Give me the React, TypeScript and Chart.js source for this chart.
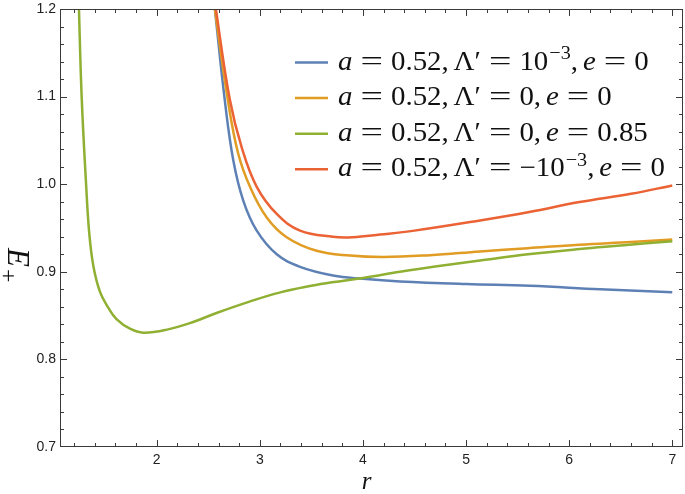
import React, { useEffect, useRef } from "react";
import { Chart, registerables } from "chart.js";

Chart.register(...registerables);

// ---- axis ranges & ticks ----
const X_MIN = 1.062;
const X_MAX = 7.104;
const Y_MIN = 0.7;
const Y_MAX = 1.2;
const X_TICKS = [2, 3, 4, 5, 6, 7];
const Y_TICKS = [0.7, 0.8, 0.9, 1.0, 1.1, 1.2];
const X_MINOR_STEP = 0.2;
const Y_MINOR_STEP = 0.02;

// ---- series ----
const LABELS = [
  "a = 0.52, Λ′ = 10^{−3}, e = 0",
  "a = 0.52, Λ′ = 0, e = 0",
  "a = 0.52, Λ′ = 0, e = 0.85",
  "a = 0.52, Λ′ = −10^{−3}, e = 0",
];
const COLORS = ["#5E81B5", "#E19C24", "#8FB032", "#EB6235"];

const BLUE_X = [2.55, 2.565, 2.66, 2.743, 2.84, 2.97, 3.164, 3.39, 3.71, 4.0, 4.36, 5.0, 5.62, 6.3, 7.0];
const BLUE_Y = [1.215, 1.199, 1.096, 1.027, 0.981, 0.947, 0.920, 0.9056, 0.8957, 0.892, 0.889, 0.886, 0.884, 0.880, 0.8766];

const ORANGE_X = [2.55, 2.565, 2.69, 2.79, 2.905, 3.067, 3.26, 3.55, 3.875, 4.2, 4.65, 5.135, 5.6, 6.1, 6.6, 7.0];
const ORANGE_Y = [1.215, 1.199, 1.096, 1.035, 0.997, 0.962, 0.9395, 0.924, 0.9185, 0.9168, 0.919, 0.9233, 0.927, 0.931, 0.934, 0.9368];

const GREEN_X = [1.236, 1.246, 1.272, 1.315, 1.345, 1.385, 1.45, 1.53, 1.61, 1.74, 1.87, 2.1, 2.36, 2.58, 2.9, 3.2, 3.5, 3.7, 4.0, 4.36, 4.7, 5.135, 5.6, 6.1, 6.5, 7.0];
const GREEN_Y = [1.25, 1.2, 1.1, 1.0, 0.945, 0.907, 0.877, 0.859, 0.846, 0.835, 0.8305, 0.834, 0.843, 0.853, 0.866, 0.8765, 0.884, 0.888, 0.893, 0.900, 0.906, 0.9128, 0.92, 0.926, 0.930, 0.935];

const RED_X = [2.56, 2.575, 2.71, 2.824, 2.97, 3.164, 3.39, 3.71, 3.9, 4.166, 4.5, 5.135, 5.6, 6.1, 6.6, 7.0];
const RED_Y = [1.215, 1.199, 1.096, 1.042, 0.997, 0.966, 0.947, 0.940, 0.9395, 0.9425, 0.947, 0.9586, 0.968, 0.9796, 0.989, 0.9986];

const SERIES_X = [BLUE_X, ORANGE_X, GREEN_X, RED_X];
const SERIES_Y = [BLUE_Y, ORANGE_Y, GREEN_Y, RED_Y];

const SERIF = '"Liberation Serif", "DejaVu Serif", serif';
const SANS = '"Liberation Sans", Arial, sans-serif';
const FRAME_COLOR = "#3a3a3a";

type Seg = { t: string; italic?: boolean; sup?: boolean };

function parseLabel(label: string): Seg[] {
  const segs: Seg[] = [];
  let i = 0;
  while (i < label.length) {
    if (label.startsWith("^{", i)) {
      const j = label.indexOf("}", i);
      segs.push({ t: label.slice(i + 2, j), sup: true });
      i = j + 1;
      continue;
    }
    const c = label[i];
    const it = /[a-z]/.test(c);
    segs.push({ t: c, italic: it });
    i++;
  }
  return segs;
}

// TeX-like layout of a math label
function drawMath(ctx: CanvasRenderingContext2D, label: string, x: number, y: number, size: number, sx: number) {
  const segs = parseLabel(label);
  ctx.save();
  ctx.translate(x, y);
  ctx.scale(sx, 1);
  let cx = 0;
  const thick = size * 0.278;
  const thin = size * 0.167;
  for (const s of segs) {
    if (s.sup) {
      ctx.font = `${size * 0.7}px ${SERIF}`;
      ctx.fillText(s.t, cx + 1, -size * 0.4);
      cx += ctx.measureText(s.t).width + 1;
      continue;
    }
    if (s.t === " ") continue;
    if (s.t === "=") {
      ctx.font = `${size}px ${SERIF}`;
      const w = ctx.measureText("=").width;
      const target = size * 0.778;
      cx += thick;
      ctx.save();
      ctx.translate(cx, 0);
      ctx.scale(target / w, 1);
      ctx.fillText("=", 0, 0);
      ctx.restore();
      cx += target + thick;
      continue;
    }
    ctx.font = `${s.italic ? "italic " : ""}${size}px ${SERIF}`;
    ctx.fillText(s.t, cx, 0);
    cx += ctx.measureText(s.t).width;
    if (s.t === ",") cx += thin;
  }
  ctx.restore();
}

const framePlugin = {
  id: "frameTicks",
  afterDraw(chart: any) {
    const ctx: CanvasRenderingContext2D = chart.ctx;
    const { left, right, top, bottom } = chart.chartArea;
    const xs = chart.scales.x;
    const ys = chart.scales.y;
    ctx.save();
    ctx.strokeStyle = FRAME_COLOR;
    ctx.lineWidth = 1;
    ctx.strokeRect(left + 0.5, top + 0.5, right - left - 1, bottom - top - 1);
    ctx.beginPath();
    const nx = Math.ceil(X_MAX / X_MINOR_STEP);
    for (let k = 0; k <= nx; k++) {
      const v = Math.round(k * X_MINOR_STEP * 1000) / 1000;
      if (v <= X_MIN || v >= X_MAX) continue;
      const major = X_TICKS.some((t) => Math.abs(t - v) < 1e-6);
      const len = major ? 7 : 4;
      const px = Math.round(xs.getPixelForValue(v)) + 0.5;
      ctx.moveTo(px, bottom);
      ctx.lineTo(px, bottom - len);
      ctx.moveTo(px, top);
      ctx.lineTo(px, top + len);
    }
    const ny = Math.round((Y_MAX - Y_MIN) / Y_MINOR_STEP);
    for (let k = 1; k < ny; k++) {
      const v = Y_MIN + k * Y_MINOR_STEP;
      const major = Y_TICKS.some((t) => Math.abs(t - v) < 1e-6);
      const len = major ? 7 : 4;
      const py = Math.round(ys.getPixelForValue(v)) + 0.5;
      ctx.moveTo(left, py);
      ctx.lineTo(left + len, py);
      ctx.moveTo(right, py);
      ctx.lineTo(right - len, py);
    }
    ctx.stroke();

    // legend
    ctx.fillStyle = "#111";
    ctx.textBaseline = "alphabetic";
    chart.data.datasets.forEach((ds: any, i: number) => {
      const ly = 62.5 + i * 35.6;
      ctx.strokeStyle = ds.borderColor;
      ctx.lineWidth = 2.5;
      ctx.beginPath();
      ctx.moveTo(295, ly);
      ctx.lineTo(328, ly);
      ctx.stroke();
      drawMath(ctx, ds.label, 338, ly + 7, 27, 1.07);
    });

    // axis titles
    ctx.fillStyle = "#111";
    ctx.font = `italic 25px ${SERIF}`;
    ctx.textAlign = "center";
    ctx.fillText("r", (left + right) / 2 - 5, 489);
    ctx.textAlign = "left";
    ctx.save();
    ctx.translate(8, 248);
    ctx.rotate(Math.PI / 2);
    ctx.font = `italic 31px ${SERIF}`;
    ctx.fillText("E", 0, 0);
    const w = ctx.measureText("E").width;
    ctx.font = `24px ${SERIF}`;
    ctx.fillText("+", w + 2, 7);
    ctx.restore();
    ctx.restore();
  },
};

export default function App() {
  const ref = useRef<HTMLCanvasElement | null>(null);
  useEffect(() => {
    if (!ref.current) return;
    const datasets = LABELS.map((label, i) => ({
      label,
      data: SERIES_X[i].map((x, j) => ({ x, y: SERIES_Y[i][j] })),
      borderColor: COLORS[i],
      backgroundColor: COLORS[i],
      borderWidth: 2.5,
      pointRadius: 0,
      fill: false,
      tension: 0.4,
      order: LABELS.length - i,
    }));
    const chart = new Chart(ref.current, {
      type: "line",
      data: { datasets },
      options: {
        animation: false,
        responsive: false,
        devicePixelRatio: 1,
        layout: { padding: { left: 0, top: 9, right: 2, bottom: 0 } },
        plugins: { legend: { display: false }, tooltip: { enabled: false } },
        scales: {
          x: {
            type: "linear",
            min: X_MIN,
            max: X_MAX,
            afterBuildTicks: (s: any) => {
              s.ticks = X_TICKS.map((v) => ({ value: v }));
            },
            afterFit: (s: any) => {
              s.height = 47;
              s.paddingLeft = 0;
              s.paddingRight = 0;
            },
            grid: { display: false, drawTicks: false },
            border: { display: false },
            ticks: {
              font: { family: SANS, size: 14 },
              color: "#222",
              padding: 5,
              maxRotation: 0,
              autoSkip: false,
              callback: (v: any) => String(v),
            },
          },
          y: {
            type: "linear",
            min: Y_MIN,
            max: Y_MAX,
            afterBuildTicks: (s: any) => {
              s.ticks = Y_TICKS.map((v) => ({ value: v }));
            },
            afterFit: (s: any) => {
              s.width = 60;
              s.paddingTop = 0;
              s.paddingBottom = 0;
            },
            grid: { display: false, drawTicks: false },
            border: { display: false },
            ticks: {
              font: { family: SANS, size: 14 },
              color: "#222",
              padding: 4,
              autoSkip: false,
              callback: (v: any) => Number(v).toFixed(1),
            },
          },
        },
      },
      plugins: [framePlugin],
    });
    return () => chart.destroy();
  }, []);
  return (
    <div style={{ position: "absolute", left: 0, top: 0, width: 685, height: 494, background: "#fff" }}>
      <canvas ref={ref} width={685} height={494} style={{ display: "block" }} />
    </div>
  );
}
